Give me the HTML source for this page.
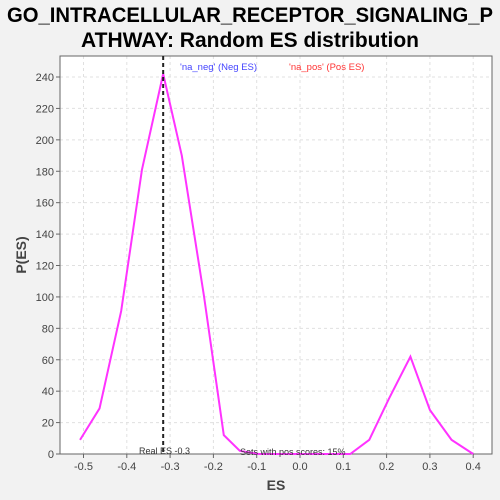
<!DOCTYPE html>
<html><head><meta charset="utf-8"><style>
html,body{margin:0;padding:0;background:#f2f2f2;}
svg{display:block;font-family:"Liberation Sans","DejaVu Sans",sans-serif;}
</style></head><body>
<svg id="chart" width="500" height="500" viewBox="0 0 500 500">
<rect x="0" y="0" width="500" height="500" fill="#f2f2f2"/>
<text x="250" y="22" text-anchor="middle" font-size="21" font-weight="bold" textLength="486" lengthAdjust="spacingAndGlyphs">GO_INTRACELLULAR_RECEPTOR_SIGNALING_P</text>
<text x="250" y="47" text-anchor="middle" font-size="21" font-weight="bold" textLength="338" lengthAdjust="spacingAndGlyphs">ATHWAY: Random ES distribution</text>
<rect x="60" y="56" width="432" height="398" fill="#ffffff"/>
<g id="grid"></g>
<g id="xticks"></g>
<g id="yticks"></g>
<rect x="60" y="56" width="432" height="398" fill="none" stroke="#666" stroke-width="1"/>
<g id="series"></g>
<text x="180" y="70" font-size="9.5" fill="#4444ff">'na_neg' (Neg ES)</text>
<text x="289" y="70" font-size="9.5" fill="#ff3333">'na_pos' (Pos ES)</text>
<text x="139" y="454" font-size="9" fill="#333">Real ES -0.3</text>
<text x="240" y="455" font-size="9" fill="#333">Sets with pos scores: 15%</text>
<text x="276" y="490" font-size="14" font-weight="bold" fill="#444" text-anchor="middle">ES</text>
<text x="26" y="255" font-size="14" font-weight="bold" fill="#444" text-anchor="middle" transform="rotate(-90 26 255)">P(ES)</text>
</svg>
<script>
const esValues = [-0.508,-0.463,-0.413,-0.365,-0.316,-0.273,-0.222,-0.176,-0.139,-0.095,-0.05,0,0.05,0.116,0.16,0.205,0.255,0.3,0.35,0.4];
const probValues = [9,29,91,181,242,190,101,12,2,0,0,0,0,0,9,35,62,28,9,0];
const xTickValues = [-0.5,-0.4,-0.3,-0.2,-0.1,0.0,0.1,0.2,0.3,0.4];
const yTickValues = [0,20,40,60,80,100,120,140,160,180,200,220,240];
const realES = [-0.316];
const NS='http://www.w3.org/2000/svg';
function xs(v){return 300+v*433;}
function ys(v){return 454-v*1.5708;}
function mk(t,a,p){const e=document.createElementNS(NS,t);for(const k in a)e.setAttribute(k,a[k]);p.appendChild(e);return e;}
const grid=document.getElementById('grid'),xt=document.getElementById('xticks'),yt=document.getElementById('yticks'),ser=document.getElementById('series');
xTickValues.forEach(v=>{
 const g=mk('line',{x1:xs(v),x2:xs(v),y1:56,y2:454,stroke:'#e0e0e0','stroke-dasharray':'3,3'},grid);
 
 
 const tk=mk('line',{x1:xs(v),x2:xs(v),y1:454,y2:458,stroke:'#666'},xt);
 
 
 const t=mk('text',{x:xs(v),y:470,'font-size':'11','fill':'#444','text-anchor':'middle'},xt);
 t.textContent=v.toFixed(1);
 
 
});
yTickValues.forEach(v=>{
 const g=mk('line',{x1:60,x2:492,y1:ys(v),y2:ys(v),stroke:'#e0e0e0','stroke-dasharray':'3,3'},grid);
 
 
 const tk=mk('line',{x1:56,x2:60,y1:ys(v),y2:ys(v),stroke:'#666'},yt);
 
 
 const t=mk('text',{x:54,y:ys(v)+4,'font-size':'11','fill':'#444','text-anchor':'end'},yt);
 t.textContent=v;
 
 
});
const pts=esValues.map((v,i)=>xs(v)+','+ys(probValues[i])).join(' ');
const line=mk('polyline',{points:pts,fill:'none',stroke:'#ff33ff','stroke-width':'2'},ser);


const rl=mk('line',{x1:xs(realES[0]),x2:xs(realES[0]),y1:56,y2:454,stroke:'#222','stroke-width':'2','stroke-dasharray':'4,3'},ser);


</script>
</body></html>
